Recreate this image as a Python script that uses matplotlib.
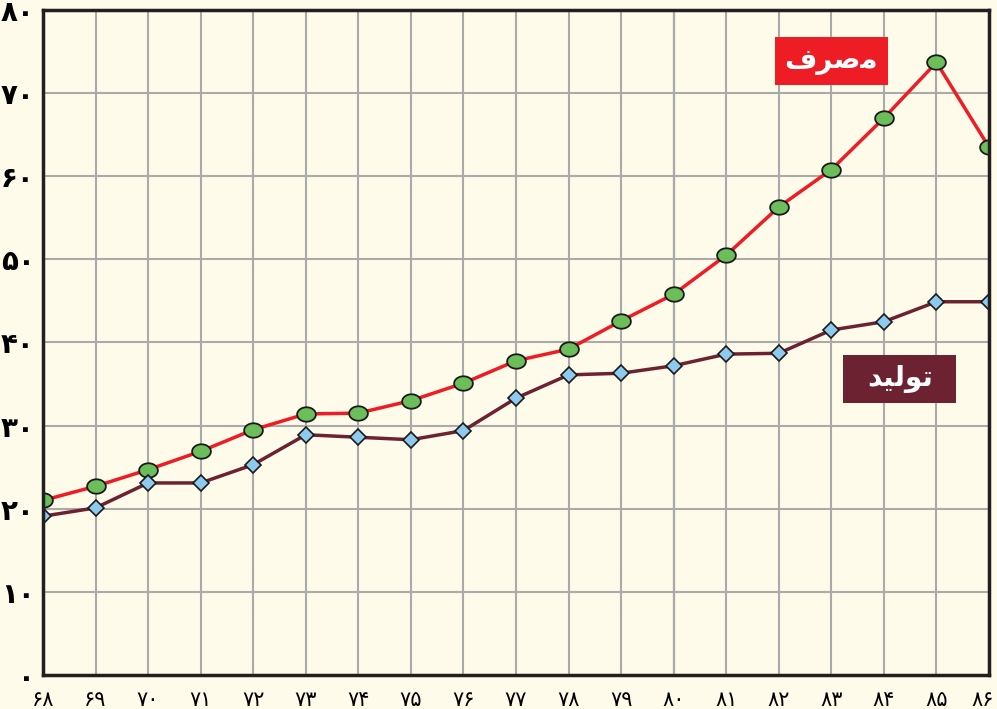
import matplotlib.pyplot as plt
import numpy as np
from matplotlib.path import Path
from matplotlib.patches import Rectangle
from matplotlib.transforms import ScaledTranslation

years = np.arange(68, 87)
consumption = [21.0, 22.7, 24.7, 26.9, 29.5, 31.4, 31.5, 33.0, 35.1, 37.8,
               39.2, 42.6, 45.8, 50.5, 56.3, 60.8, 67.0, 73.7, 63.5]
production = [19.1, 20.1, 23.1, 23.1, 25.3, 28.9, 28.6, 28.3, 29.4, 33.3,
              36.1, 36.3, 37.2, 38.6, 38.7, 41.5, 42.5, 44.9, 44.9]
y_ticks = [0, 10, 20, 30, 40, 50, 60, 70, 80]

# persian digits
fa_digits = str.maketrans("0123456789", "۰۱۲۳۴۵۶۷۸۹")
def fa(n):
    return str(n).translate(fa_digits)

# presentation forms, visual order (matplotlib has no arabic shaping)
label_cons = "\uFED1\uFEAE\uFEBB\uFEE3"          # مصرف
label_prod = "\uFEAA\uFEF4\uFEDF\uFEEE\uFE97"    # تولید

bg = "#fefbea"
red = "#ee1c25"
maroon = "#6d2232"

plt.rcParams['font.family'] = ['DejaVu Sans']

fig = plt.figure(figsize=(9.97, 7.09), dpi=100)
fig.patch.set_facecolor(bg)
ax = fig.add_axes([0.0431, 0.048, 0.9489, 0.9379])
ax.set_facecolor(bg)

#ellipse marker
t = np.linspace(0, 2 * np.pi, 60)
ellipse = Path(np.column_stack([1.3 * np.cos(t), np.sin(t)]), closed=True)

ax.plot(years, consumption, color=red, lw=2.5, marker=ellipse, markersize=13.5,
        markerfacecolor="#6cbe5a", markeredgecolor="#1a1a1a", markeredgewidth=1.3,
        zorder=4)
ax.plot(years, production, color=maroon, lw=2.5, marker="D", markersize=8,
        markerfacecolor="#8ec9ee", markeredgecolor="#1a1a1a", markeredgewidth=1.2,
        zorder=4)

ax.set_xlim(68, 86)
ax.set_ylim(0, 80)
ax.set_xticks(years)
ax.set_yticks(y_ticks)
ax.set_xticklabels([fa(y) for y in years], fontsize=15)
ax.set_yticklabels([fa(v) for v in y_ticks], fontsize=20, fontweight="bold")
ax.tick_params(length=0)
ax.tick_params(axis="x", pad=11)
ax.tick_params(axis="y", pad=6)

# keep last x label inside the figure
last = ax.get_xticklabels()[-1]
last.set_transform(last.get_transform() + ScaledTranslation(-6 / 100, 0, fig.dpi_scale_trans))

ax.grid(True, color="#aaaaaa", lw=1.5, zorder=0)
ax.axvline(80, color="#555555", lw=1.5, zorder=1)
for s in ax.spines.values():
    s.set_color("#231f20")
    s.set_linewidth(2.5)
    s.set_zorder(5)

# label boxes
ax.add_patch(Rectangle((83.0 - 1.075, 73.9 - 2.9), 2.15, 5.8, fc=red, ec="none", zorder=6))
ax.text(83.0, 73.9, label_cons, color="white", fontsize=20, fontweight="bold",
        ha="center", va="center", zorder=7)
ax.add_patch(Rectangle((84.3 - 1.075, 35.6 - 2.9), 2.15, 5.8, fc=maroon, ec="none", zorder=6))
ax.text(84.3, 35.6, label_prod, color="white", fontsize=20, fontweight="bold",
        ha="center", va="center", zorder=7)

plt.savefig("out.png", dpi=100, facecolor=bg)
